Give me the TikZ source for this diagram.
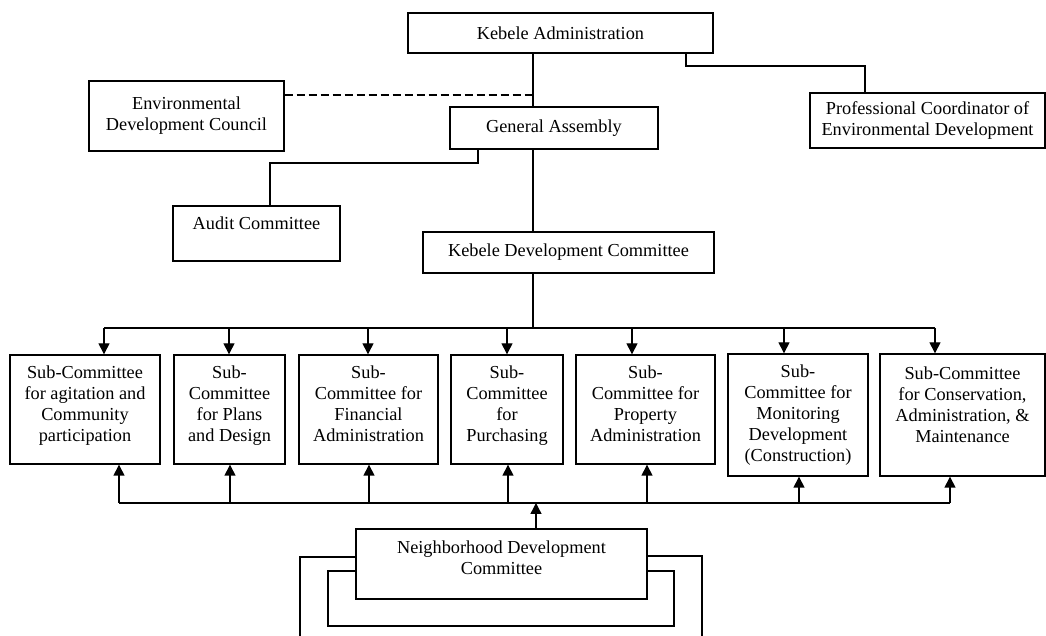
\documentclass[tikz,border=0pt]{standalone}
\usepackage{fontspec}
\setmainfont{Liberation Serif}
\usetikzlibrary{arrows.meta}

\tikzset{
    orgbox/.style={draw, align=center, inner sep=0pt},
}

\begin{document}
\begin{tikzpicture}[x=0.5pt, y=-0.5pt, line width=0.7pt,
        >={Triangle[length=5.5pt, width=5.5pt]},
        font=\fontsize{9.15}{10.5}\selectfont]
        \useasboundingbox (0, 0) rectangle (1046, 636);

        \node[orgbox, minimum width=152.5pt, minimum height=20pt] (ka) at (560.5, 33) {Kebele Administration};
        \node[orgbox, minimum width=97.5pt, minimum height=35pt] (edc) at (186.5, 116) {Environmental\\Development Council};
        \node[orgbox, minimum width=104pt, minimum height=21pt] (ga) at (554, 128) {General Assembly};
        \node[orgbox, minimum width=117.5pt, minimum height=27.5pt] (pc) at (927.5, 120.5) {Professional Coordinator of\\Environmental Development};
        \node[orgbox, minimum width=83.5pt, minimum height=27.5pt] (audit) at (256.5, 233.5) {Audit Committee\\\mbox{}};
        \node[orgbox, minimum width=145.5pt, minimum height=20.5pt] (kdc) at (568.5, 252.5) {Kebele Development Committee};

        \node[orgbox, minimum width=75pt, minimum height=54.5pt] (s1) at (85, 409.5) {Sub-Committee\\for agitation and\\Community\\participation\\[-5pt]\mbox{}};
        \node[orgbox, minimum width=55.5pt, minimum height=54.5pt] (s2) at (229.5, 409.5) {Sub-\\Committee\\for Plans\\and Design\\[-5pt]\mbox{}};
        \node[orgbox, minimum width=69.5pt, minimum height=54.5pt] (s3) at (368.5, 409.5) {Sub-\\Committee for\\Financial\\Administration\\[-5pt]\mbox{}};
        \node[orgbox, minimum width=56pt, minimum height=54.5pt] (s4) at (507, 409.5) {Sub-\\Committee\\for\\Purchasing\\[-5pt]\mbox{}};
        \node[orgbox, minimum width=69.5pt, minimum height=54.5pt] (s5) at (645.5, 409.5) {Sub-\\Committee for\\Property\\Administration\\[-5pt]\mbox{}};
        \node[orgbox, minimum width=70pt, minimum height=61pt] (s6) at (798, 415) {Sub-\\Committee for\\Monitoring\\Development\\(Construction)};
        \node[orgbox, minimum width=82.5pt, minimum height=61pt] (s7) at (962.5, 415) {Sub-Committee\\for Conservation,\\Administration, \&\\Maintenance\\\mbox{}};

        \node[orgbox, minimum width=145.5pt, minimum height=35pt] (ndc) at (501.5, 564) {Neighborhood Development\\Committee\\[-4pt]\mbox{}};

        \coordinate (spine) at (533, 0);
        \coordinate (topbus) at (0, 328);
        \coordinate (lowbus) at (0, 503);

        \draw (ka.south -| spine) -- (ga.north -| spine);
        \draw (ga.south -| spine) -- (kdc.north -| spine);
        \draw[dash pattern=on 4pt off 2pt] (edc.east |- 0,95) -- (spine |- 0,95);
        \draw (ka.south -| 686,0) |- (865, 66) -- (pc.north -| 865,0);
        \draw (ga.south -| 478,0) |- (270, 163) -- (audit.north -| 270,0);

        \draw (kdc.south -| spine) -- (topbus -| spine);
        \draw (topbus -| 104,0) -- (topbus -| 935,0);
        \foreach \sub/\xx in {s1/104, s2/229, s3/368, s4/507, s5/632, s6/784, s7/935} {
            \draw[->] (topbus -| \xx,0) -- (\sub.north -| \xx,0);
        }

        \draw (lowbus -| 119,0) -- (lowbus -| 950,0);
        \foreach \sub/\xx in {s1/119, s2/230, s3/369, s4/508, s5/647, s6/799, s7/950} {
            \draw[->] (lowbus -| \xx,0) -- (\sub.south -| \xx,0);
        }
        \draw[->] (ndc.north -| 536,0) -- (lowbus -| 536,0);

        \draw (ndc.west |- 0,557) -| (300, 636);
        \draw (ndc.east |- 0,556) -| (702, 636);
        \draw (ndc.west |- 0,571) -| (328, 626) -| (674, 571) -- (ndc.east |- 0,571);
    \end{tikzpicture}
\end{document}
